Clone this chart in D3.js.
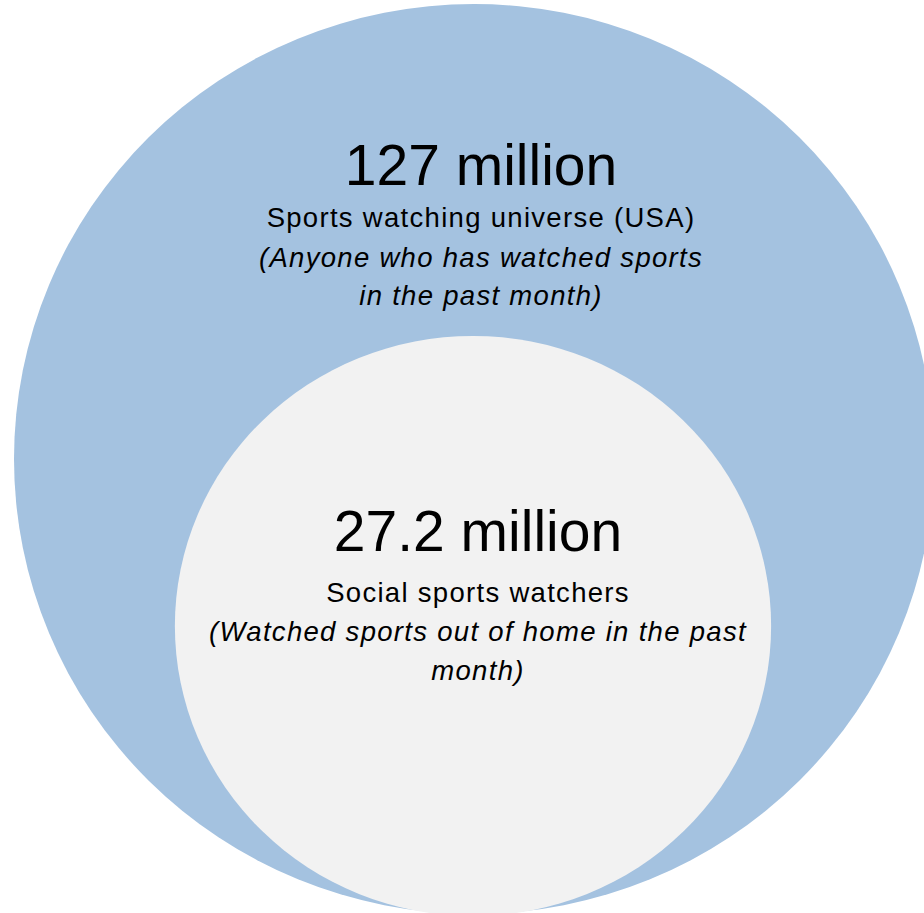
<!DOCTYPE html>
<html>
<head>
<meta charset="utf-8">
<title>Sports watching audience</title>
<script src="https://cdn.jsdelivr.net/npm/d3@7/dist/d3.min.js"></script>
<style>
  html, body { margin: 0; padding: 0; background: #ffffff; }
  svg { display: block; }
</style>
</head>
<body>
<svg id="chart" width="924" height="913"></svg>
<script>
// Audience sizes, in millions
const values = [127, 27.2];
const groupLabels = ["Sports watching universe (USA)", "Social sports watchers"];
const groupNotes = [
  ["(Anyone who has watched sports", "in the past month)"],
  ["(Watched sports out of home in the past", "month)"]
];

// Layout and styling for each nested disc (outer first)
const layout = [
  { cx: 474, cy: 459, squash: 0.989, fill: "#a4c2e0", textX: 481, headY: 185, labelY: 227, noteY: [267, 305] },
  { cx: 473, cy: 626, squash: 0.973, fill: "#f2f2f2", textX: 478, headY: 551, labelY: 602, noteY: [641, 680] }
];

const svg = d3.select("#chart");

// Horizontal radius of each disc from its audience size
const rScale = d3.scaleLinear().domain([0, 127]).range([254, 460]);

const groups = svg.selectAll("g.audience")
  .data(values.map((v, i) => ({ value: v, label: groupLabels[i], notes: groupNotes[i], ...layout[i] })))
  .join("g")
  .attr("class", "audience");

groups.append("ellipse")
  .attr("cx", d => d.cx)
  .attr("cy", d => d.cy)
  .attr("rx", d => rScale(d.value))
  .attr("ry", d => rScale(d.value) * d.squash)
  .attr("fill", d => d.fill);

const fontFamily = "'Liberation Sans', Arial, sans-serif";

groups.append("text")
  .attr("x", d => d.textX)
  .attr("y", d => d.headY)
  .attr("text-anchor", "middle")
  .attr("font-family", fontFamily)
  .attr("font-size", 57)
  .attr("fill", "#000")
  .text(d => `${d.value} million`);

groups.append("text")
  .attr("x", d => d.textX)
  .attr("y", d => d.labelY)
  .attr("text-anchor", "middle")
  .attr("font-family", fontFamily)
  .attr("font-size", 27.5)
  .attr("letter-spacing", 1.3)
  .attr("fill", "#000")
  .text(d => d.label);

groups.each(function(d) {
  d3.select(this).selectAll("text.note")
    .data(d.notes.map((t, j) => ({ t, y: d.noteY[j], x: d.textX })))
    .join("text")
    .attr("class", "note")
    .attr("x", n => n.x)
    .attr("y", n => n.y)
    .attr("text-anchor", "middle")
    .attr("font-family", fontFamily)
    .attr("font-size", 27.5)
    .attr("font-style", "italic")
    .attr("letter-spacing", 1.3)
    .attr("fill", "#000")
    .text(n => n.t);
});
</script>
</body>
</html>
